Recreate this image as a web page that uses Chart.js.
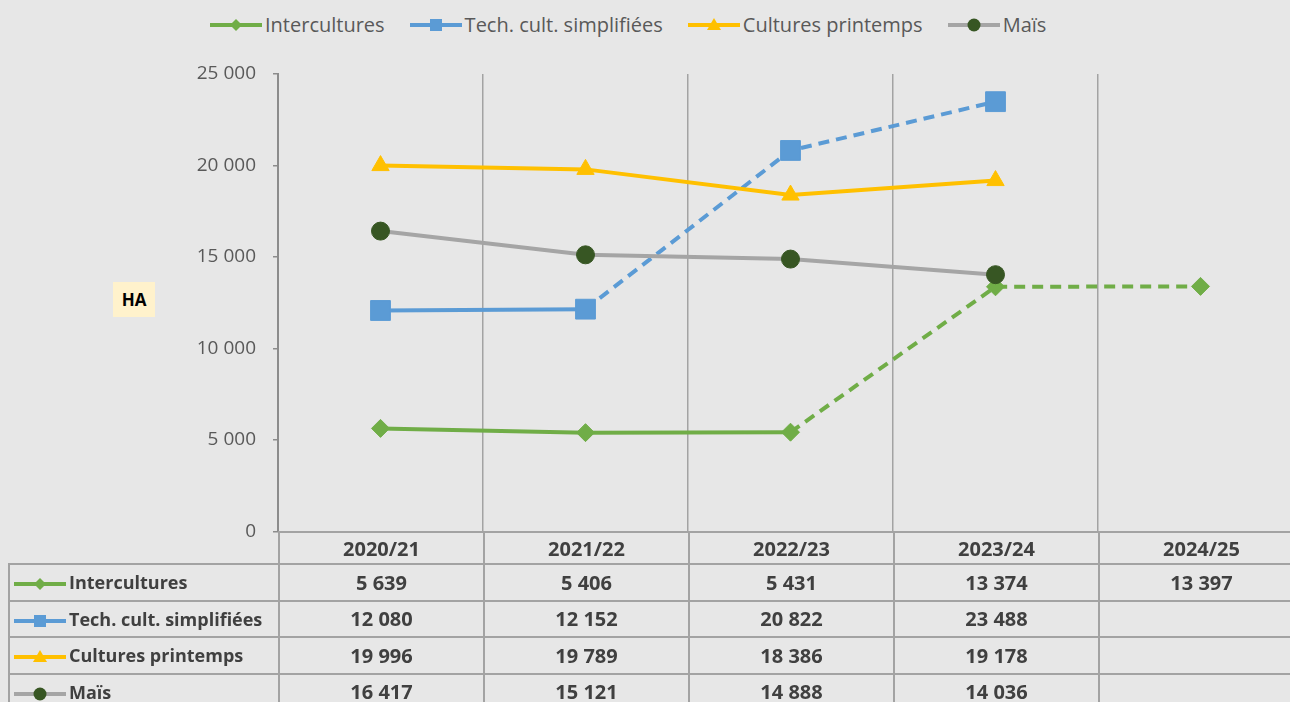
<!DOCTYPE html>
<html>
<head>
<meta charset="utf-8">
<script src="https://cdn.jsdelivr.net/npm/chart.js@4.4.1/dist/chart.umd.min.js"></script>
<style>
  body { margin:0; background:#e7e7e7; width:1290px; height:702px; overflow:hidden; position:relative; font-family:"Open Sans", sans-serif; }
  #legend { position:absolute; left:210px; top:11px; display:flex; align-items:center; color:#595959; font-size:20px; white-space:nowrap; }
  #legend .item { display:flex; align-items:center; margin-right:25px; }
  #legend svg { margin-right:3px; }
  #wrap { position:absolute; left:0; top:0; width:1318px; height:560px; }
  #ha { position:absolute; left:113px; top:282px; width:42px; height:35px; background:#fff2cc; font-weight:700; font-size:17px; line-height:35px; text-align:center; color:#000; }
  #tbl { position:absolute; left:8px; top:531px; width:1294px; border-collapse:collapse; table-layout:fixed; color:#404040; font-weight:700; font-size:20px; }
  #tbl td { border:2px solid #a3a3a3; padding:0; text-align:center; white-space:nowrap; overflow:hidden; }
  #tbl td.lab { text-align:left; font-size:18px; }
  #tbl td.lab svg { vertical-align:middle; margin:0 3px 0 4px; }
  #tbl tr.hd td { height:30px; }
  #tbl tr.row td { height:34.5px; }
  #tbl td.corner { border-top:0 none; border-left:0 none; }
</style>
</head>
<body>
<div id="legend"></div>
<div id="wrap"><canvas id="c" width="1318" height="560"></canvas></div>
<div id="ha">HA</div>
<table id="tbl"></table>
<script>
/* ── 데이터 ── */
var years = ['2020/21', '2021/22', '2022/23', '2023/24', '2024/25'];
var seriesNames = ['Intercultures', 'Tech. cult. simplifiées', 'Cultures printemps', 'Maïs'];
var intercultures = [5639, 5406, 5431, 13374, 13397];
var techSimplifiees = [12080, 12152, 20822, 23488, null];
var culturesPrintemps = [19996, 19789, 18386, 19178, null];
var mais = [16417, 15121, 14888, 14036, null];
var yTicks = [0, 5000, 10000, 15000, 20000, 25000];

/* ── 스타일 ── */
var styles = [
  { line: '#70ad47', mark: '#70ad47', shape: 'rectRot', radius: 9, dashFrom: 2, order: 3 },
  { line: '#5b9bd5', mark: '#5b9bd5', shape: 'rect', radius: 14, dashFrom: 1, order: 2 },
  { line: '#ffc000', mark: '#ffc000', shape: 'triangle', radius: 10, dashFrom: 99, order: 1 },
  { line: '#a5a5a5', mark: '#375623', shape: 'circle', radius: 9, dashFrom: 99, order: 0 }
];
var allData = [intercultures, techSimplifiees, culturesPrintemps, mais];

// 천 단위 공백 구분 (예: 12 080)
function fmt(v) {
  if (v === null || v === undefined) return '';
  return v.toLocaleString('fr-FR').replace(/\s/g, '\u00a0');
}

function iconSvg(st) {
  var c = st.mark, m = '';
  if (st.shape === 'rectRot') m = '<path d="M26 2 L32 8 L26 14 L20 8Z" fill="' + c + '"/>';
  else if (st.shape === 'rect') m = '<rect x="20" y="2" width="12" height="12" fill="' + c + '"/>';
  else if (st.shape === 'triangle') m = '<path d="M26 1 L33 13 L19 13Z" fill="' + c + '"/>';
  else m = '<circle cx="26" cy="8" r="6.5" fill="' + c + '"/>';
  return '<svg width="52" height="16"><line x1="0" y1="8" x2="52" y2="8" stroke="' + st.line + '" stroke-width="4"/>' + m + '</svg>';
}

/* ── 범례 ── */
document.getElementById('legend').innerHTML = seriesNames.map(function(n, i) {
  return '<div class="item">' + iconSvg(styles[i]) + '<span>' + n + '</span></div>';
}).join('');

/* ── 데이터 테이블 ── */
(function buildTable() {
  var html = '<colgroup><col style="width:270px">';
  years.forEach(function() { html += '<col style="width:205px">'; });
  html += '</colgroup><tr class="hd"><td class="corner"></td>';
  years.forEach(function(y) { html += '<td>' + y + '</td>'; });
  html += '</tr>';
  seriesNames.forEach(function(n, i) {
    html += '<tr class="row"><td class="lab">' + iconSvg(styles[i]) + n + '</td>';
    allData[i].forEach(function(v) { html += '<td>' + fmt(v) + '</td>'; });
    html += '</tr>';
  });
  document.getElementById('tbl').innerHTML = html;
})();

/* ── 차트 ── */
var datasets = seriesNames.map(function(n, i) {
  var st = styles[i];
  return {
    label: n,
    data: allData[i],
    order: st.order,
    borderColor: st.line,
    backgroundColor: st.mark,
    borderWidth: 4,
    pointStyle: st.shape,
    pointRadius: st.radius,
    pointBackgroundColor: st.mark,
    pointBorderColor: st.mark,
    pointBorderWidth: 1,
    tension: 0,
    segment: {
      borderDash: function(ctx) { return ctx.p0DataIndex >= st.dashFrom ? [11, 7] : undefined; }
    }
  };
});

new Chart(document.getElementById('c').getContext('2d'), {
  type: 'line',
  data: { labels: years, datasets: datasets },
  options: {
    responsive: false,
    animation: false,
    layout: { padding: { top: 74, right: 0, bottom: 9, left: 0 } },
    plugins: { legend: { display: false }, tooltip: { enabled: false } },
    scales: {
      x: {
        offset: true,
        ticks: { display: false },
        grid: { offset: true, color: '#a3a3a3', lineWidth: 1.5, drawTicks: false },
        border: { display: false },
        afterFit: function(s) { s.height = 0; }
      },
      y: {
        min: 0, max: 25000,
        afterBuildTicks: function(s) { s.ticks = yTicks.map(function(v) { return { value: v }; }); },
        ticks: {
          color: '#595959',
          padding: 17,
          font: { family: 'Open Sans', size: 19 },
          callback: function(v) { return fmt(v); }
        },
        grid: { drawOnChartArea: false, drawTicks: true, tickLength: 5, color: '#8c8c8c', lineWidth: 1.5 },
        border: { display: true, color: '#8c8c8c', width: 2 },
        afterFit: function(s) { s.width = 278; }
      }
    }
  }
});
</script>
</body>
</html>
